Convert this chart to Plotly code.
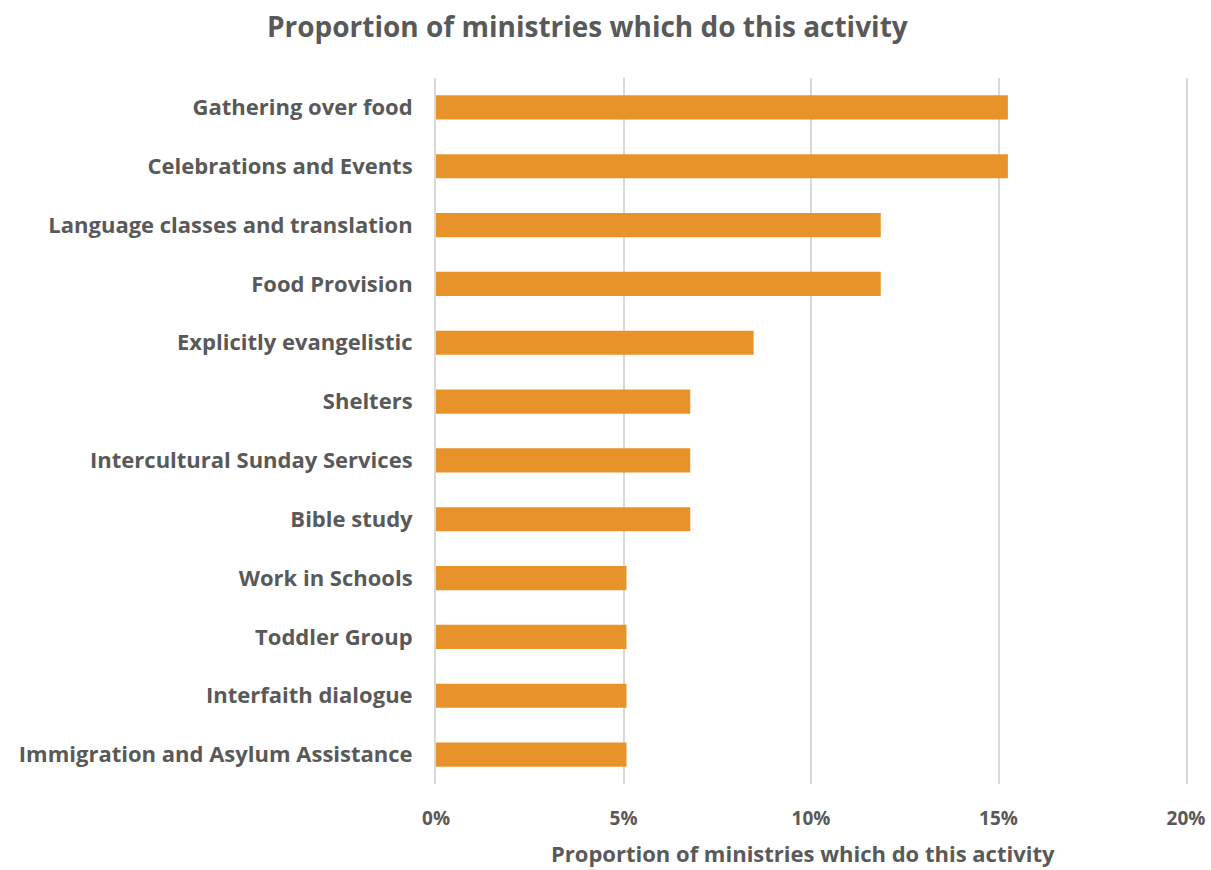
import plotly.graph_objects as go

# Share of ministries (percent) running each activity
activities = [
    "Gathering over food",
    "Celebrations and Events",
    "Language classes and translation",
    "Food Provision",
    "Explicitly evangelistic",
    "Shelters",
    "Intercultural Sunday Services",
    "Bible study",
    "Work in Schools",
    "Toddler Group",
    "Interfaith dialogue",
    "Immigration and Asylum Assistance",
]
share_pct = [15.25, 15.25, 11.86, 11.86, 8.47, 6.78, 6.78, 6.78, 5.08, 5.08, 5.08, 5.08]

tick_vals = [0, 5, 10, 15, 20]
tick_text = ["0%", "5%", "10%", "15%", "20%"]

TEXT = "#595959"
GRID = "#D9D9D9"
FONT = "Open Sans"
TITLE = "Proportion of ministries which do this activity"

fig = go.Figure(
    go.Bar(
        x=share_pct,
        y=activities,
        orientation="h",
        width=0.41,
        marker=dict(color="#E8922A", line=dict(width=0)),
        hoverinfo="skip",
    )
)

fig.update_layout(
    width=1211,
    height=870,
    plot_bgcolor="white",
    paper_bgcolor="white",
    margin=dict(l=436, r=25, t=78, b=86),
    showlegend=False,
    title=dict(
        text=TITLE,
        x=0.485,
        xanchor="center",
        y=0.969,
        yanchor="middle",
        font=dict(family=FONT, size=28, color=TEXT, weight="bold"),
    ),
)

# x-axis title, placed under the tick labels
fig.add_annotation(
    text=TITLE,
    xref="paper",
    yref="paper",
    x=0.489,
    y=-0.098,
    xanchor="center",
    yanchor="middle",
    showarrow=False,
    font=dict(family=FONT, size=22, color=TEXT, weight="bold"),
)

fig.update_xaxes(
    range=[0, 20],
    automargin=False,
    tickvals=tick_vals,
    ticktext=tick_text,
    showgrid=True,
    gridcolor=GRID,
    gridwidth=2,
    zeroline=False,
    showline=False,
    ticks="outside",
    ticklen=17,
    tickcolor="rgba(0,0,0,0)",
    tickfont=dict(family=FONT, size=19, color=TEXT, weight="bold"),
)

# vertical lines at the 0% and 20% ends of the plot
fig.update_yaxes(
    categoryorder="array",
    categoryarray=activities[::-1],
    automargin=False,
    showgrid=False,
    zeroline=False,
    showline=True,
    mirror=True,
    linecolor=GRID,
    linewidth=2,
    ticks="outside",
    ticklen=17,
    tickcolor="rgba(0,0,0,0)",
    tickfont=dict(family=FONT, size=22, color=TEXT, weight="bold"),
)

fig.write_html("out.html")
